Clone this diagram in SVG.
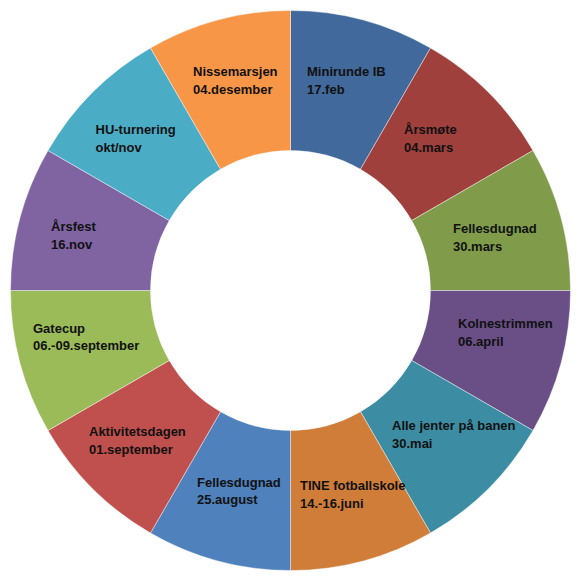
<svg xmlns="http://www.w3.org/2000/svg" width="580" height="582" viewBox="0 0 580 582">
<style>
.seg{stroke:#ffffff;stroke-width:0.6;stroke-opacity:0.7}
text{font-family:"Liberation Sans",Arial,sans-serif;font-weight:bold;font-size:13px;fill:#111111}
</style>
<rect width="580" height="582" fill="#ffffff"/>
<g id="seg-minirunde"><path class="seg" fill="#41699B" d="M290.5,10.5 A280,280 0 0 1 430.5,48.013 L360.5,169.256 A140,140 0 0 0 290.5,150.5 Z"/><text x="307" y="76">Minirunde IB</text><text x="307" y="94">17.feb</text></g>
<g id="seg-arsmote"><path class="seg" fill="#9F403D" d="M430.5,48.013 A280,280 0 0 1 532.987,150.5 L411.744,220.5 A140,140 0 0 0 360.5,169.256 Z"/><text x="404" y="133.5">Årsmøte</text><text x="404" y="151.5">04.mars</text></g>
<g id="seg-fellesdugnad-mars"><path class="seg" fill="#809C4A" d="M532.987,150.5 A280,280 0 0 1 570.5,290.5 L430.5,290.5 A140,140 0 0 0 411.744,220.5 Z"/><text x="453" y="233">Fellesdugnad</text><text x="453" y="251">30.mars</text></g>
<g id="seg-kolnestrimmen"><path class="seg" fill="#694F86" d="M570.5,290.5 A280,280 0 0 1 532.987,430.5 L411.744,360.5 A140,140 0 0 0 430.5,290.5 Z"/><text x="458" y="327.5">Kolnestrimmen</text><text x="458" y="345.5">06.april</text></g>
<g id="seg-alle-jenter"><path class="seg" fill="#3C8DA3" d="M532.987,430.5 A280,280 0 0 1 430.5,532.987 L360.5,411.744 A140,140 0 0 0 411.744,360.5 Z"/><text x="392" y="429.5">Alle jenter på banen</text><text x="392" y="447.5">30.mai</text></g>
<g id="seg-tine"><path class="seg" fill="#CF7D38" d="M430.5,532.987 A280,280 0 0 1 290.5,570.5 L290.5,430.5 A140,140 0 0 0 360.5,411.744 Z"/><text x="300" y="490">TINE fotballskole</text><text x="300" y="507.5">14.-16.juni</text></g>
<g id="seg-fellesdugnad-aug"><path class="seg" fill="#4F81BD" d="M290.5,570.5 A280,280 0 0 1 150.5,532.987 L220.5,411.744 A140,140 0 0 0 290.5,430.5 Z"/><text x="197" y="486.5">Fellesdugnad</text><text x="197" y="504">25.august</text></g>
<g id="seg-aktivitetsdagen"><path class="seg" fill="#C0504D" d="M150.5,532.987 A280,280 0 0 1 48.013,430.5 L169.256,360.5 A140,140 0 0 0 220.5,411.744 Z"/><text x="89" y="436">Aktivitetsdagen</text><text x="89" y="453.5">01.september</text></g>
<g id="seg-gatecup"><path class="seg" fill="#9BBB59" d="M48.013,430.5 A280,280 0 0 1 10.5,290.5 L150.5,290.5 A140,140 0 0 0 169.256,360.5 Z"/><text x="33" y="332.5">Gatecup</text><text x="33" y="350">06.-09.september</text></g>
<g id="seg-arsfest"><path class="seg" fill="#8064A2" d="M10.5,290.5 A280,280 0 0 1 48.013,150.5 L169.256,220.5 A140,140 0 0 0 150.5,290.5 Z"/><text x="51" y="230.5">Årsfest</text><text x="51" y="248.5">16.nov</text></g>
<g id="seg-hu-turnering"><path class="seg" fill="#4BACC6" d="M48.013,150.5 A280,280 0 0 1 150.5,48.013 L220.5,169.256 A140,140 0 0 0 169.256,220.5 Z"/><text x="95.5" y="134">HU-turnering</text><text x="95.5" y="152">okt/nov</text></g>
<g id="seg-nissemarsjen"><path class="seg" fill="#F79646" d="M150.5,48.013 A280,280 0 0 1 290.5,10.5 L290.5,150.5 A140,140 0 0 0 220.5,169.256 Z"/><text x="193" y="76">Nissemarsjen</text><text x="193" y="94">04.desember</text></g>
<g id="connectors"/>
</svg>
